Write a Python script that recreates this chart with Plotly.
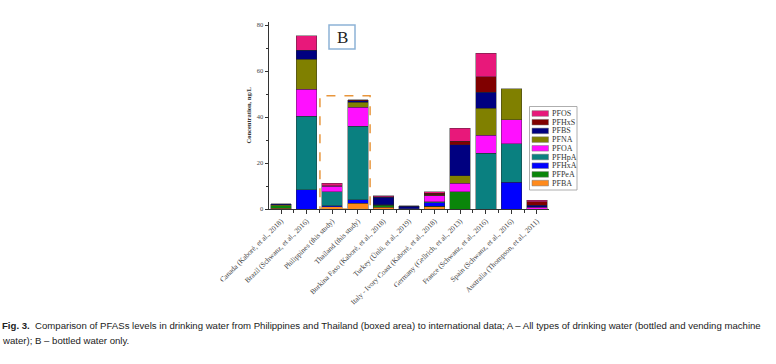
import plotly.graph_objects as go

countries = [
    "Canada (Kaboré, et al., 2018)",
    "Brazil (Schwanz, et al., 2016)",
    "Philippines (this study)",
    "Thailand (this study)",
    "Burkina Faso (Kaboré, et al., 2018)",
    "Turkey (Ünlü, et al., 2019)",
    "Italy - Ivory Coast (Kaboré, et al., 2018)",
    "Germany (Gellrich, et al., 2013)",
    "France (Schwanz, et al., 2016)",
    "Spain (Schwanz, et al., 2016)",
    "Australia (Thompson, et al., 2011)",
]

# stacked bottom -> top
PFBA  = [0.3, 0,    1.0, 2.6,  0.8, 0,   1.0, 0,    0,    0,    0]
PFPeA = [1.2, 0,    0,   0,    0.9, 0,   0.3, 7.4,  0,    0,    0]
PFHxA = [0,   8.4,  0.5, 1.4,  0.2, 0.4, 1.5, 0,    0,    11.7, 0]
PFHpA = [0,   32.0, 5.9, 31.9, 0,   0,   0.3, 0,    24.3, 16.6, 0]
PFOA  = [0,   11.7, 2.4, 8.3,  0,   0,   2.6, 3.9,  7.7,  10.5, 0.8]
PFNA  = [0.3, 13.0, 0,   2.3,  0,   0,   0.2, 3.2,  11.9, 13.4, 0]
PFBS  = [0.4, 4.0,  0,   0.6,  3.2, 0.8, 0.4, 13.5, 6.8,  0,    0.9]
PFHxS = [0,   0,    0.4, 0.4,  0.3, 0.2, 0.6, 1.4,  6.7,  0,    1.4]
PFOS  = [0,   6.3,  1.0, 0,    0.4, 0,   0.5, 5.8,  10.4, 0,    0.8]

series_names = ["PFBA", "PFPeA", "PFHxA", "PFHpA", "PFOA", "PFNA", "PFBS", "PFHxS", "PFOS"]
series_vals = [PFBA, PFPeA, PFHxA, PFHpA, PFOA, PFNA, PFBS, PFHxS, PFOS]
series_colors = ["#ff8a1c", "#0a860a", "#0000ff", "#0a8080", "#ff10ff",
                 "#808000", "#000080", "#800000", "#e8187a"]

y_ticks = [0, 20, 40, 60, 80]
boxed = [2, 3]          # Philippines, Thailand (indices)
box_top = 49.2

W, H = 776, 364
L, R, T, B = 269, 227, 22, 155
PW, PH = W - L - R, H - T - B

def px_x(px):
    return (px - L) / PW

def px_y(py):
    return (H - B - py) / PH

serif = "Liberation Serif, Times New Roman, serif"

fig = go.Figure()
xs = list(range(len(countries)))
for name, vals, col in zip(series_names, series_vals, series_colors):
    fig.add_trace(go.Bar(
        x=xs, y=[v if v else None for v in vals], name=name,
        marker=dict(color=col, line=dict(color="rgba(40,40,40,0.7)", width=0.6)),
        width=0.8, showlegend=False,
    ))

shapes = []
annotations = []

# dashed box around this-study bars
shapes.append(dict(type="rect", xref="x", yref="y",
                   x0=boxed[0] - 0.48, x1=boxed[-1] + 0.48, y0=0, y1=box_top,
                   line=dict(color="#e8963c", width=1.5, dash="dash"),
                   fillcolor="rgba(0,0,0,0)", layer="above"))

# "B" label box
shapes.append(dict(type="rect", xref="paper", yref="paper",
                   x0=px_x(329), x1=px_x(355), y0=px_y(49), y1=px_y(25),
                   line=dict(color="#8db3d6", width=1.5), fillcolor="white"))
annotations.append(dict(text="B", xref="paper", yref="paper",
                        x=px_x(342), y=px_y(37.5), showarrow=False,
                        font=dict(family=serif, size=17, color="#222"),
                        xanchor="center", yanchor="middle"))

# custom legend (top -> bottom = PFOS ... PFBA)
lg_x0, lg_x1, lg_y0, lg_y1 = 529.5, 577, 106.5, 190
shapes.append(dict(type="rect", xref="paper", yref="paper",
                   x0=px_x(lg_x0), x1=px_x(lg_x1), y0=px_y(lg_y1), y1=px_y(lg_y0),
                   line=dict(color="#999", width=0.8), fillcolor="white"))
first_c, step = 113.5, 8.7
for i, (name, col) in enumerate(zip(series_names[::-1], series_colors[::-1])):
    cy = first_c + i * step
    shapes.append(dict(type="rect", xref="paper", yref="paper",
                       x0=px_x(532), x1=px_x(548.5), y0=px_y(cy + 2.8), y1=px_y(cy - 2.8),
                       line=dict(color="#777", width=0.5), fillcolor=col))
    annotations.append(dict(text=name, xref="paper", yref="paper",
                            x=px_x(549.5), y=px_y(cy), showarrow=False,
                            xanchor="left", yanchor="middle",
                            font=dict(family=serif, size=8, color="#333")))

# y axis title
annotations.append(dict(text="<b>Concentration, ng/L</b>", xref="paper", yref="paper",
                        x=px_x(248), y=px_y(115.5), textangle=-90, showarrow=False,
                        xanchor="center", yanchor="middle",
                        font=dict(family=serif, size=6.5, color="#333")))

# caption
cap_font = dict(family="Liberation Sans, Arial, sans-serif", size=9.6, color="#222")
annotations.append(dict(
    text="<b>Fig. 3.</b>  Comparison of PFASs levels in drinking water from Philippines and Thailand "
         "(boxed area) to international data; A \u2013 All types of drinking water (bottled and vending machine",
    xref="paper", yref="paper", x=px_x(0), y=px_y(326), showarrow=False,
    xanchor="left", yanchor="middle", font=cap_font))
annotations.append(dict(
    text="water); B \u2013 bottled water only.",
    xref="paper", yref="paper", x=px_x(0), y=px_y(340), showarrow=False,
    xanchor="left", yanchor="middle", font=cap_font))

fig.update_layout(
    barmode="stack",
    width=W, height=H,
    margin=dict(l=L, r=R, t=T, b=B, pad=0),
    paper_bgcolor="white", plot_bgcolor="white",
    shapes=shapes, annotations=annotations,
    bargap=0.2,
)
fig.update_xaxes(
    range=[-0.47, len(countries) - 1 + 0.47],
    tickmode="array", tickvals=xs, ticktext=countries,
    tickangle=-45, ticks="outside", ticklen=4, tickwidth=0.8, tickcolor="#333",
    minor=dict(ticks="outside", ticklen=2.5, tickwidth=0.8, tickcolor="#333",
               tick0=0.5, dtick=1),
    showline=True, linecolor="#333", linewidth=1, showgrid=False, zeroline=False,
    tickfont=dict(family=serif, size=7.3, color="#444"), automargin=False,
)
fig.update_yaxes(
    range=[0, PH / 2.3],
    tickmode="array", tickvals=y_ticks, ticktext=[str(t) for t in y_ticks],
    ticks="outside", ticklen=3.5, tickwidth=0.8, tickcolor="#333",
    minor=dict(ticks="outside", ticklen=2, tickwidth=0.8, tickcolor="#333",
               tick0=10, dtick=20),
    showline=True, linecolor="#333", linewidth=1, showgrid=False, zeroline=False,
    tickfont=dict(family=serif, size=6.5, color="#444"), automargin=False,
)

fig.write_html("out.html")
